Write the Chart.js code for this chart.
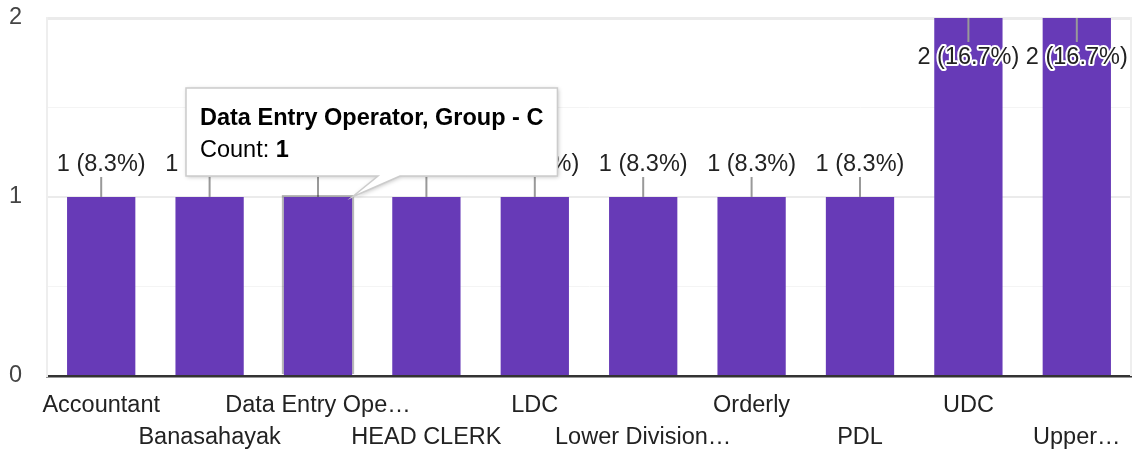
<!DOCTYPE html>
<html>
<head>
<meta charset="utf-8">
<script src="https://cdn.jsdelivr.net/npm/chart.js@4/dist/chart.umd.min.js"></script>
<style>
html,body{margin:0;padding:0;background:#fff;}
#wrap{width:1134px;height:452px;}
</style>
</head>
<body>
<div id="wrap"><canvas id="c" width="1134" height="452"></canvas></div>
<script>
// ---- data ----
const categories = ['Accountant','Banasahayak','Data Entry Operator, Group - C','HEAD CLERK','LDC','Lower Division Clerk','Orderly','PDL','UDC','Upper Division Clerk'];
const tickLabels = ['Accountant','Banasahayak','Data Entry Ope\u2026','HEAD CLERK','LDC','Lower Division\u2026','Orderly','PDL','UDC','Upper\u2026'];
const counts = [1,1,1,1,1,1,1,1,2,2];
const yTicks = [0,1,2];
const tooltipIndex = 2;

const total = counts.reduce((a,b)=>a+b,0);
const FONT = "'Liberation Sans', Arial, sans-serif";
const FS = 23.5;

const labelPlugin = {
  id:'annot',
  afterDatasetsDraw(chart){
    const ctx = chart.ctx, area = chart.chartArea;
    const meta = chart.getDatasetMeta(0);
    ctx.save();
    meta.data.forEach((bar,i)=>{
      const v = counts[i];
      const txt = v + ' (' + (v/total*100).toFixed(1) + '%)';
      const x = bar.x, top = bar.y;
      let l1,l2,ty;
      if (top - 40 < area.top){ l1 = top; l2 = top+24; ty = top+40; }
      else { l1 = top-20; l2 = top; ty = top-32; }
      ctx.strokeStyle = '#999'; ctx.lineWidth = 2;
      ctx.beginPath(); ctx.moveTo(x,l1); ctx.lineTo(x,l2); ctx.stroke();
      ctx.font = FS+'px '+FONT;
      ctx.textAlign='center'; ctx.textBaseline='middle';
      ctx.lineJoin='round';
      ctx.strokeStyle='#fff'; ctx.lineWidth=4;
      ctx.strokeText(txt,x,ty);
      ctx.fillStyle='#222';
      ctx.fillText(txt,x,ty);
    });
    ctx.restore();
  },
  afterDraw(chart){
    const ctx = chart.ctx, area = chart.chartArea;
    ctx.save();
    // right border
    ctx.strokeStyle='#eeeeee'; ctx.lineWidth=2;
    ctx.beginPath(); ctx.moveTo(area.right,area.top-1); ctx.lineTo(area.right,area.bottom); ctx.stroke();
    // hovered bar outline
    const bar = chart.getDatasetMeta(0).data[tooltipIndex];
    const bw = bar.width;
    const bl = bar.x - bw/2, br = bar.x + bw/2;
    ctx.strokeStyle='rgba(0,0,0,0.28)'; ctx.lineWidth=2;
    ctx.beginPath();
    ctx.moveTo(bl-1, bar.base-1); ctx.lineTo(bl-1, bar.y-1); ctx.lineTo(br+1, bar.y-1); ctx.lineTo(br+1, bar.base-1);
    ctx.stroke();
    // tooltip
    const title = categories[tooltipIndex];
    ctx.font = 'bold '+FS+'px '+FONT;
    const tw = ctx.measureText(title).width;
    const pad = 14;
    const left = bar.x - 132, bottom = bar.y - 21, h = 88, top = bottom - h;
    const right = left + tw + 2*pad;
    const t1 = bar.x + 60, t2 = bar.x + 82;
    ctx.beginPath();
    ctx.moveTo(left, top);
    ctx.lineTo(right, top);
    ctx.lineTo(right, bottom);
    ctx.lineTo(t2, bottom);
    ctx.lineTo(br, bar.y);
    ctx.lineTo(t1, bottom);
    ctx.lineTo(left, bottom);
    ctx.closePath();
    ctx.shadowColor='rgba(0,0,0,0.25)'; ctx.shadowBlur=4; ctx.shadowOffsetX=1; ctx.shadowOffsetY=1;
    ctx.fillStyle='#fff'; ctx.fill();
    ctx.shadowColor='transparent'; ctx.shadowBlur=0; ctx.shadowOffsetX=0; ctx.shadowOffsetY=0;
    ctx.strokeStyle='#cccccc'; ctx.lineWidth=1.5; ctx.stroke();
    ctx.fillStyle='#000';
    ctx.textAlign='left'; ctx.textBaseline='middle';
    ctx.font = 'bold '+FS+'px '+FONT;
    ctx.fillText(title, left+pad, top+31);
    ctx.font = FS+'px '+FONT;
    const lab = 'Count: ';
    ctx.fillText(lab, left+pad, top+63);
    const lw = ctx.measureText(lab).width;
    ctx.font = 'bold '+FS+'px '+FONT;
    ctx.fillText(String(counts[tooltipIndex]), left+pad+lw, top+63);
    ctx.restore();
  }
};

new Chart(document.getElementById('c'), {
  type:'bar',
  data:{
    labels: categories,
    datasets:[{
      data: counts,
      backgroundColor:'#673ab7',
      barPercentage:0.63,
      categoryPercentage:1.0
    }]
  },
  options:{
    responsive:false,
    devicePixelRatio:1,
    animation:false,
    events:[],
    layout:{padding:{top:18,right:3,left:0,bottom:0}},
    plugins:{legend:{display:false},tooltip:{enabled:false}},
    scales:{
      x:{
        afterFit:(s)=>{s.height=76; s.paddingLeft=0; s.paddingRight=0;},
        grid:{display:false,drawTicks:false},
        border:{display:true,color:'#333333',width:2.5},
        ticks:{
          autoSkip:false,maxRotation:0,minRotation:0,padding:14,
          color:'#222',
          font:{family:FONT,size:FS,lineHeight:'32px'},
          callback:(v,i)=> i%2===0 ? [tickLabels[i],''] : ['',tickLabels[i]]
        }
      },
      y:{
        min:0,max:2,
        afterFit:(s)=>{s.width=47; s.paddingTop=0; s.paddingBottom=0;},
        border:{display:true,color:'#eeeeee',width:2},
        grid:{
          drawTicks:false,tickLength:0,
          color:(c)=>{const v=c.tick.value; if(v===0) return 'rgba(0,0,0,0)'; return Number.isInteger(v)?'#ebebeb':'#f4f4f4';},
          lineWidth:(c)=>{const v=c.tick.value; if(v===2) return 3; return Number.isInteger(v)?2:1;}
        },
        ticks:{
          stepSize:0.5,padding:25,color:'#444',
          font:{family:FONT,size:FS},
          callback:(v)=> yTicks.includes(v) ? String(v) : ''
        }
      }
    }
  },
  plugins:[labelPlugin]
});
</script>
</body>
</html>
